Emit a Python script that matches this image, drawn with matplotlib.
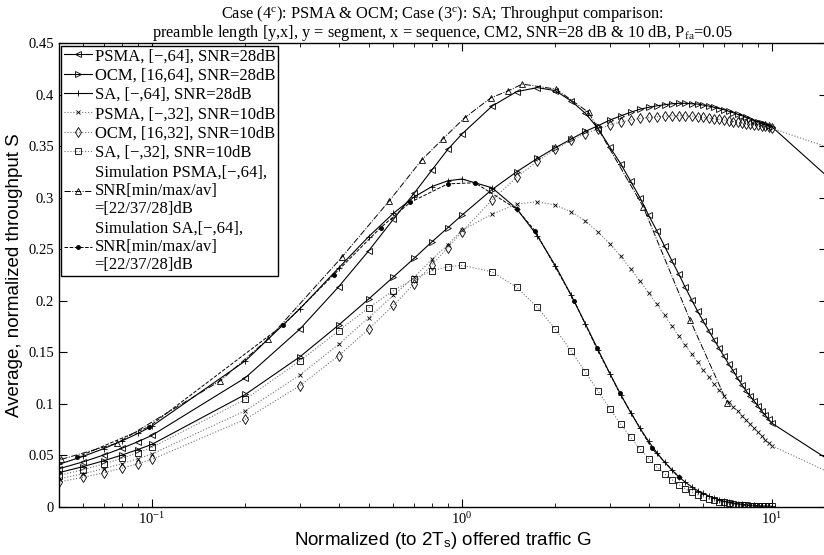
import matplotlib
matplotlib.use("Agg")
import matplotlib.pyplot as plt
from matplotlib.ticker import FixedLocator, FixedFormatter, LogLocator, NullFormatter

plt.rcParams['font.family'] = ['Liberation Serif', 'DejaVu Serif']
plt.rcParams['mathtext.fontset'] = 'custom'
plt.rcParams['mathtext.rm'] = 'Liberation Serif'
plt.rcParams['mathtext.it'] = 'Liberation Serif:italic'
plt.rcParams['mathtext.sf'] = 'Liberation Sans'

# offered traffic grid used by the analytical curves
G = [0.05, 0.06, 0.07, 0.08, 0.09, 0.1, 0.2, 0.3, 0.4, 0.5, 0.6, 0.7, 0.8, 0.9, 1.0,
     1.25, 1.5, 1.75, 2.0, 2.25, 2.5, 2.75, 3.0, 3.25, 3.5, 3.75, 4.0, 4.25, 4.5, 4.75,
     5.0, 5.25, 5.5, 5.75, 6.0, 6.25, 6.5, 6.75, 7.0, 7.25, 7.5, 7.75, 8.0, 8.25, 8.5,
     8.75, 9.0, 9.25, 9.5, 9.75, 10.0]

psma28 = [0.0368, 0.0436, 0.0503, 0.0568, 0.0631, 0.0693, 0.1252, 0.1725, 0.2136, 0.2485,
          0.279, 0.3042, 0.327, 0.347, 0.362, 0.389, 0.403, 0.407, 0.404, 0.394, 0.382,
          0.367, 0.349, 0.333, 0.316, 0.300, 0.283, 0.268, 0.253, 0.239, 0.226, 0.213,
          0.201, 0.190, 0.180, 0.171, 0.162, 0.154, 0.146, 0.1385, 0.1317, 0.1247, 0.1182,
          0.1123, 0.1075, 0.1026, 0.098, 0.0932, 0.089, 0.0849, 0.081]
ocm28 = [0.033, 0.039, 0.0447, 0.0502, 0.0555, 0.0606, 0.109, 0.1456, 0.1764, 0.2017,
         0.223, 0.2411, 0.2573, 0.2709, 0.2832, 0.308, 0.3252, 0.3382, 0.3486, 0.357,
         0.3645, 0.370, 0.3755, 0.3795, 0.383, 0.386, 0.3878, 0.3893, 0.3903, 0.3913,
         0.3917, 0.3917, 0.3913, 0.391, 0.390, 0.389, 0.3878, 0.3866, 0.3855, 0.384,
         0.3825, 0.381, 0.3797, 0.378, 0.3765, 0.375, 0.3738, 0.3725, 0.3712, 0.370, 0.3688]
sa28 = [0.0411, 0.0489, 0.0565, 0.0639, 0.0711, 0.0783, 0.1416, 0.1922, 0.2319, 0.2623,
        0.2848, 0.3007, 0.3109, 0.3165, 0.3182, 0.3097, 0.2895, 0.2629, 0.2341, 0.2053,
        0.1775, 0.1521, 0.1292, 0.1089, 0.0914, 0.0762, 0.0634, 0.0524, 0.0433, 0.0356,
        0.0291, 0.0238, 0.0194, 0.0157, 0.0129, 0.0104, 0.0084, 0.0068, 0.0055, 0.0045,
        0.0036, 0.0029, 0.0023, 0.0019, 0.0015, 0.0012, 0.001, 0.0008, 0.0006, 0.0005, 0.0004]
psma10 = [0.027, 0.032, 0.037, 0.0418, 0.0465, 0.0512, 0.0932, 0.1279, 0.1577, 0.1835,
          0.2052, 0.2228, 0.2402, 0.2545, 0.2685, 0.284, 0.2939, 0.2961, 0.2929, 0.2864,
          0.2774, 0.2664, 0.2553, 0.2431, 0.2308, 0.2191, 0.2078, 0.1965, 0.1858, 0.1754,
          0.1657, 0.157, 0.1483, 0.1402, 0.1327, 0.1259, 0.1191, 0.113, 0.1075, 0.102,
          0.0971, 0.0929, 0.0883, 0.0842, 0.080, 0.0761, 0.0722, 0.0686, 0.0648, 0.0621, 0.0592]
ocm10 = [0.024, 0.0285, 0.033, 0.0374, 0.0417, 0.046, 0.0849, 0.1175, 0.1466, 0.1725,
         0.1955, 0.2162, 0.235, 0.2515, 0.267, 0.2978, 0.3198, 0.3356, 0.347, 0.356,
         0.3624, 0.367, 0.3706, 0.3735, 0.3754, 0.377, 0.378, 0.3786, 0.3793, 0.3796,
         0.3796, 0.3795, 0.3793, 0.3786, 0.378, 0.3773, 0.3767, 0.376, 0.3754, 0.3747,
         0.374, 0.3733, 0.3727, 0.372, 0.3715, 0.371, 0.3704, 0.370, 0.3696, 0.369, 0.3674]
sa10 = [0.0303, 0.036, 0.0416, 0.047, 0.0524, 0.0576, 0.1043, 0.1416, 0.1708, 0.1932,
        0.2097, 0.2214, 0.229, 0.2331, 0.2343, 0.2281, 0.2132, 0.1936, 0.1724, 0.1512,
        0.1307, 0.112, 0.0951, 0.0802, 0.0673, 0.0561, 0.0467, 0.0386, 0.0319, 0.0262,
        0.0215, 0.0175, 0.0143, 0.0116, 0.0095, 0.0077, 0.0062, 0.005, 0.0041, 0.0033,
        0.0027, 0.0021, 0.0017, 0.0014, 0.0011, 0.0009, 0.0007, 0.0006, 0.0005, 0.0004, 0.0003]

# beyond G=10 only a line segment is visible (no markers)
G_tail = [10.0, 20.0]
psma28_tail = [0.081, 0.0225]
ocm28_tail = [0.3688, 0.2875]
psma10_tail = [0.0592, 0.0168]
ocm10_tail = [0.3674, 0.3366]

# simulation points
G_sim_psma = [0.051, 0.077, 0.166, 0.237, 0.409, 0.583, 0.741, 0.866, 1.02, 1.24, 1.41,
              1.565, 2.01, 2.56, 3.84, 5.44, 7.17]
sim_psma = [0.046, 0.0616, 0.1223, 0.1628, 0.2421, 0.2971, 0.3366, 0.357, 0.3777, 0.3971,
            0.4039, 0.4104, 0.4055, 0.3829, 0.2913, 0.1813, 0.101]
G_sim_sa = [0.0573, 0.0977, 0.265, 0.385, 0.546, 0.68, 0.9, 1.10, 1.5, 1.72, 2.3, 2.72,
            3.23, 4.09, 5.02]
sim_sa = [0.048, 0.0777, 0.1764, 0.225, 0.2709, 0.2955, 0.3135, 0.3146, 0.289, 0.268, 0.200,
          0.1538, 0.110, 0.0567, 0.0285]

yticks = [0, 0.05, 0.1, 0.15, 0.2, 0.25, 0.3, 0.35, 0.4, 0.45]
ytick_labels = ['0', '0.05', '0.1', '0.15', '0.2', '0.25', '0.3', '0.35', '0.4', '0.45']

fig = plt.figure(figsize=(8.24, 5.55), dpi=100)
ax = fig.add_axes([0.0712, 0.087, 0.932, 0.835])

mk = dict(color='k', markersize=5, fillstyle='none', markeredgewidth=0.6)
dot = dict(color='0.45', markeredgecolor='k', fillstyle='none', markeredgewidth=0.6)
ax.plot(G, psma28, '-', marker='<', lw=0.8, label='PSMA, [\u2212,64], SNR=28dB', **mk)
ax.plot(G, ocm28, '-', marker='>', lw=0.8, label='OCM, [16,64], SNR=28dB', **mk)
ax.plot(G, sa28, '-', marker='+', lw=0.8, label='SA, [\u2212,64], SNR=28dB', **mk)
ax.plot(G, psma10, ':', marker='x', lw=0.8, label='PSMA, [\u2212,32], SNR=10dB',
        markersize=3.5, **dot)
ax.plot(G, ocm10, ':', marker='d', lw=0.8, label='OCM, [16,32], SNR=10dB',
        markersize=5, **dot)
ax.plot(G, sa10, ':', marker='s', lw=0.8, label='SA, [\u2212,32], SNR=10dB',
        markersize=4, **dot)
ax.plot(G_sim_psma, sim_psma, '-.', marker='^', lw=0.7,
        label='Simulation PSMA,[\u2212,64],\nSNR[min/max/av]\n=[22/37/28]dB', **mk)
ax.plot(G_sim_sa, sim_sa, '--', marker='.', lw=0.7,
        label='Simulation SA,[\u2212,64],\nSNR[min/max/av]\n=[22/37/28]dB',
        color='k', markersize=5)

ax.plot(G_tail, psma28_tail, '-', color='k', lw=0.8)
ax.plot(G_tail, ocm28_tail, '-', color='k', lw=0.8)
ax.plot(G_tail, psma10_tail, ':', color='0.45', lw=0.8)
ax.plot(G_tail, ocm10_tail, ':', color='0.45', lw=0.8)

ax.set_xscale('log')
ax.set_xlim(0.05, 15)
ax.set_ylim(0, 0.45)
ax.yaxis.set_major_locator(FixedLocator(yticks))
ax.yaxis.set_major_formatter(FixedFormatter(ytick_labels))
ax.xaxis.set_major_locator(LogLocator(base=10))
ax.xaxis.set_minor_locator(LogLocator(base=10, subs=range(2, 10)))
ax.xaxis.set_minor_formatter(NullFormatter())
ax.tick_params(which='both', direction='in', top=True, right=True, labelsize=10.5)
ax.tick_params(which='major', length=6)
ax.tick_params(which='minor', length=3)
for s in ax.spines.values():
    s.set_linewidth(1.0)

ax.set_xlabel('Normalized (to 2T$_\\mathsf{s}$) offered traffic G', family='Liberation Sans',
              fontsize=13.5, labelpad=2)
ax.set_ylabel('Average, normalized throughput S', family='Liberation Sans', fontsize=13.5,
              labelpad=4)
ax.set_title('Case (4$^{\\mathrm{c}}$): PSMA & OCM; Case (3$^{\\mathrm{c}}$): SA; Throughput comparison:\n'
             'preamble length [y,x], y = segment, x = sequence, CM2, SNR=28 dB & 10 dB, P$_{\\mathrm{fa}}$=0.05',
             fontsize=11.8, linespacing=0.95, pad=3)

leg = ax.legend(loc='upper left', fontsize=12, frameon=True, fancybox=False,
                edgecolor='k', framealpha=1, borderpad=0.15, labelspacing=0.2,
                handlelength=1.7, handletextpad=0.15, borderaxespad=0.15)
leg.get_frame().set_linewidth(1.0)

fig.savefig('out.png', dpi=100)
